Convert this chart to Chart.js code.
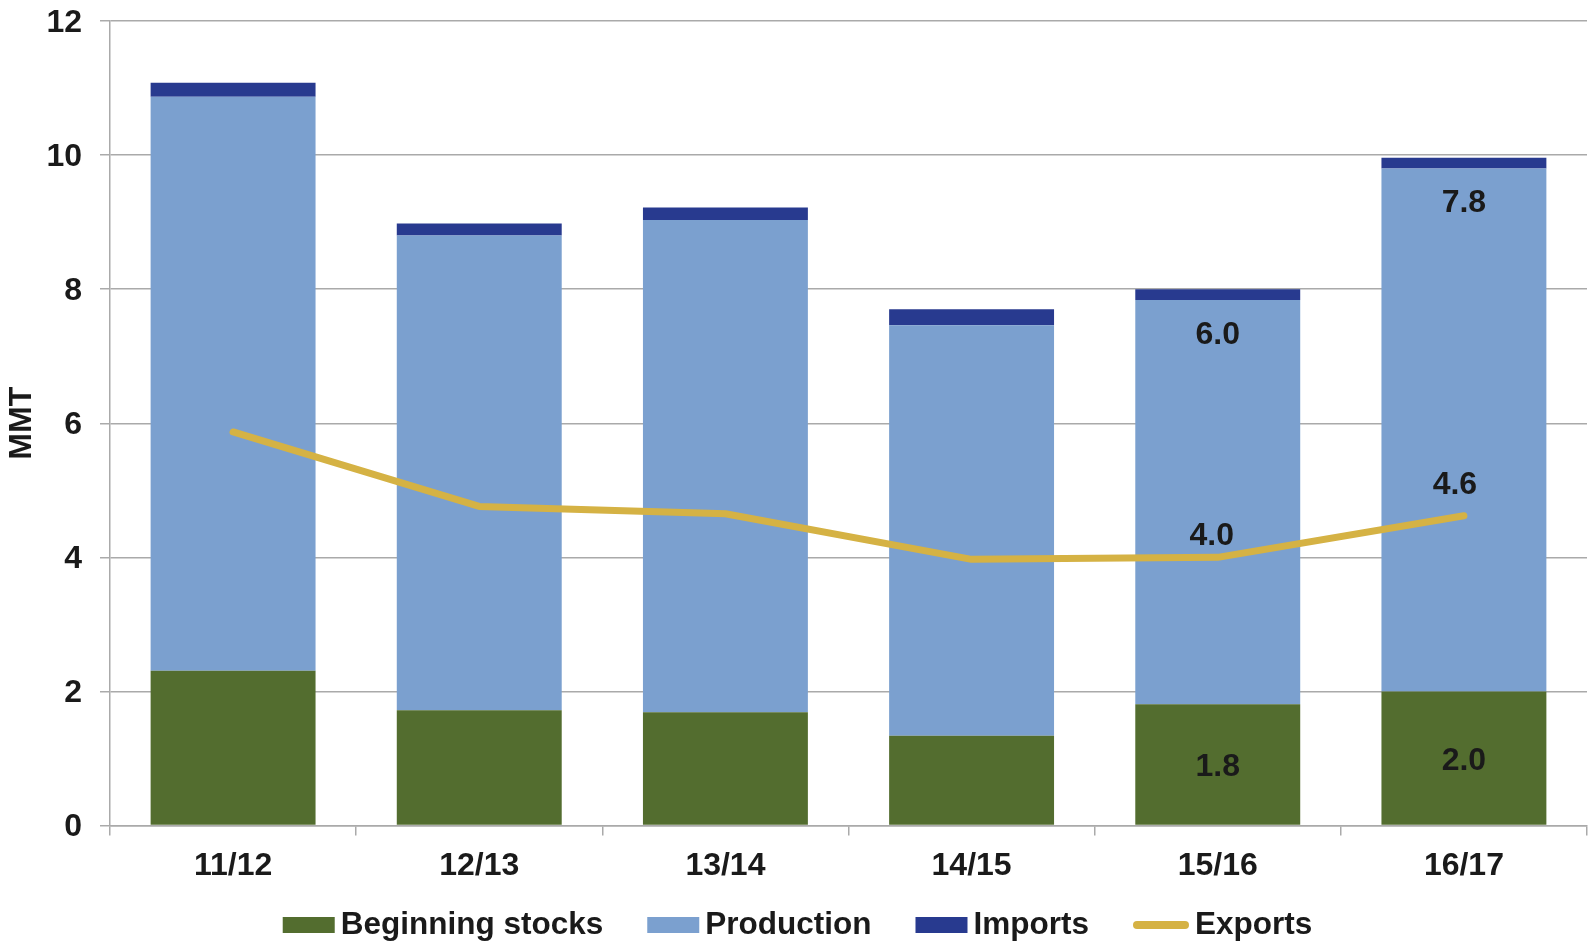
<!DOCTYPE html>
<html>
<head>
<meta charset="utf-8">
<script src="https://cdn.jsdelivr.net/npm/chart.js@4.4.1/dist/chart.umd.min.js"></script>
<style>
  html, body { margin: 0; padding: 0; background: #ffffff; }
  canvas { display: block; }
</style>
</head>
<body>
<canvas id="c" width="1595" height="951"></canvas>
<script>
// ---- data ----
const categories = ['11/12', '12/13', '13/14', '14/15', '15/16', '16/17'];
const beginningStocks = [2.31, 1.72, 1.69, 1.34, 1.81, 2.00];
const production = [8.56, 7.08, 7.34, 6.12, 6.03, 7.80];
const imports = [0.21, 0.18, 0.19, 0.24, 0.16, 0.16];
const exportsData = [5.87, 4.76, 4.65, 3.97, 4.00, 4.62];
const yTicks = [0, 2, 4, 6, 8, 10, 12];
const labeledIndices = [4, 5];

const FONT = '"Liberation Sans", Arial, Helvetica, sans-serif';
const TEXT = '#1a1a1a';
const GRID = '#aaaaaa';
const C_GREEN = '#536d2f';
const C_LBLUE = '#7ba0cf';
const C_NAVY = '#283a8f';
const C_GOLD = '#d5b244';
const FS = 32;
const LFS = 31.5;

const valueLabels = {
  id: 'valueLabels',
  afterDatasetsDraw(chart) {
    const ctx = chart.ctx;
    ctx.save();
    ctx.font = 'bold ' + FS + 'px ' + FONT;
    ctx.fillStyle = TEXT;
    ctx.textAlign = 'center';
    ctx.textBaseline = 'middle';
    const byLabel = l => chart.data.datasets.findIndex(d => d.label === l);
    const iStock = byLabel('Beginning stocks');
    const iProd = byLabel('Production');
    const iExp = byLabel('Exports');
    labeledIndices.forEach(i => {
      const s = chart.getDatasetMeta(iStock).data[i];
      ctx.fillText(beginningStocks[i].toFixed(1), s.x, (s.y + s.base) / 2 + 3);
      const p = chart.getDatasetMeta(iProd).data[i];
      ctx.fillText(production[i].toFixed(1), p.x, p.y + 35);
      const e = chart.getDatasetMeta(iExp).data[i];
      const dy = i === 4 ? 21 : 31;
      const dx = i === 4 ? 6 : 9;
      ctx.fillText(exportsData[i].toFixed(1), e.x - dx, e.y - dy);
    });
    ctx.restore();
  }
};

const customLegend = {
  id: 'customLegend',
  afterDraw(chart) {
    const ctx = chart.ctx;
    ctx.save();
    ctx.font = 'bold ' + LFS + 'px ' + FONT;
    ctx.textBaseline = 'middle';
    ctx.fillStyle = TEXT;
    const items = [
      { text: 'Beginning stocks', color: C_GREEN, type: 'box' },
      { text: 'Production', color: C_LBLUE, type: 'box' },
      { text: 'Imports', color: C_NAVY, type: 'box' },
      { text: 'Exports', color: C_GOLD, type: 'line' }
    ];
    const boxW = 52, boxH = 16, textGap = 6, itemGap = 44;
    const widths = items.map(it => boxW + (it.type === 'line' ? 4 : 0) + textGap + ctx.measureText(it.text).width);
    const total = widths.reduce((a, b) => a + b, 0) + itemGap * (items.length - 1);
    let x = chart.width / 2 - total / 2;
    const cy = 925;
    items.forEach((it, k) => {
      if (it.type === 'box') {
        ctx.fillStyle = it.color;
        ctx.fillRect(x, cy - boxH / 2, boxW, boxH);
        ctx.fillStyle = TEXT;
        ctx.textAlign = 'left';
        ctx.fillText(it.text, x + boxW + textGap, cy);
      } else {
        ctx.strokeStyle = it.color;
        ctx.lineWidth = 8;
        ctx.lineCap = 'round';
        ctx.beginPath();
        ctx.moveTo(x + 4, cy);
        ctx.lineTo(x + boxW, cy);
        ctx.stroke();
        ctx.fillStyle = TEXT;
        ctx.textAlign = 'left';
        ctx.fillText(it.text, x + boxW + 4 + textGap, cy);
      }
      x += widths[k] + itemGap;
    });
    ctx.restore();
  }
};

new Chart(document.getElementById('c'), {
  type: 'bar',
  data: {
    labels: categories,
    datasets: [
      {
        type: 'line',
        label: 'Exports',
        data: exportsData,
        stack: 'exports',
        borderColor: C_GOLD,
        backgroundColor: C_GOLD,
        borderWidth: 7,
        borderCapStyle: 'round',
        borderJoinStyle: 'round',
        pointRadius: 0,
        tension: 0,
        order: 0
      },
      { label: 'Beginning stocks', data: beginningStocks, backgroundColor: C_GREEN, stack: 'supply', order: 1 },
      { label: 'Production', data: production, backgroundColor: C_LBLUE, stack: 'supply', order: 1 },
      { label: 'Imports', data: imports, backgroundColor: C_NAVY, stack: 'supply', order: 1 }
    ]
  },
  options: {
    responsive: false,
    animation: false,
    devicePixelRatio: 1,
    layout: { padding: { top: 21, left: 0, right: 8, bottom: 69.5 } },
    datasets: { bar: { categoryPercentage: 1.0, barPercentage: 0.67 } },
    plugins: { legend: { display: false }, tooltip: { enabled: false } },
    scales: {
      x: {
        stacked: true,
        offset: true,
        grid: { display: true, drawOnChartArea: false, drawTicks: true, tickLength: 10, color: GRID, lineWidth: 1.5, offset: true },
        border: { display: true, color: GRID, width: 1.5 },
        ticks: { font: { family: FONT, size: FS, weight: 'bold' }, color: TEXT, padding: 11, maxRotation: 0 },
        afterFit(scale) { scale.height = 56; scale.paddingLeft = 0; scale.paddingRight = 0; }
      },
      y: {
        stacked: true,
        min: 0,
        max: 12,
        afterBuildTicks(scale) { scale.ticks = yTicks.map(v => ({ value: v })); },
        grid: { display: true, drawTicks: true, tickLength: 10, color: GRID, lineWidth: 1.5 },
        border: { display: true, color: GRID, width: 1.5 },
        ticks: { font: { family: FONT, size: FS, weight: 'bold' }, color: TEXT, padding: 18, labelOffset: 2 },
        title: { display: true, text: 'MMT', font: { family: FONT, size: FS, weight: 'bold' }, color: TEXT, padding: { top: 3, bottom: 4 } },
        afterFit(scale) { scale.width = 110; scale.paddingTop = 0; scale.paddingBottom = 0; }
      }
    }
  },
  plugins: [valueLabels, customLegend]
});
</script>
</body>
</html>
